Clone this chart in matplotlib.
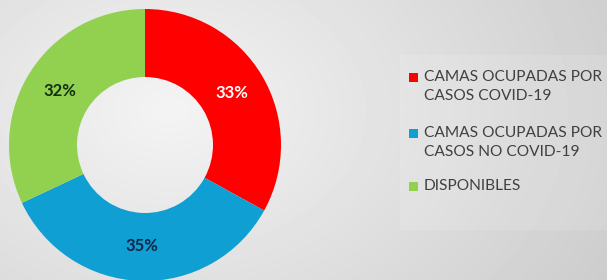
import numpy as np
import matplotlib
matplotlib.use("Agg")
import matplotlib.pyplot as plt
from matplotlib.patches import Rectangle

# Chart data
categories = ["CAMAS OCUPADAS POR\nCASOS COVID-19",
              "CAMAS OCUPADAS POR\nCASOS NO COVID-19",
              "DISPONIBLES"]
values = [33, 35, 32]
colors = ["#ff0000", "#0f9fd2", "#92d050"]
label_colors = ["white", "#10264a", "#14300f"]

W, H = 607, 280
fig = plt.figure(figsize=(W / 100, H / 100), dpi=100)

# background: soft radial grey gradient
bg = fig.add_axes([0, 0, 1, 1])
yy, xx = np.mgrid[0:H, 0:W]
d = np.sqrt(((xx - 170) / 420.0) ** 2 + ((yy - 110) / 300.0) ** 2)
shade = 0.955 - 0.13 * np.clip(d, 0, 1.2)
bg.imshow(shade, cmap="gray", vmin=0, vmax=1, extent=[0, W, H, 0], aspect="auto")
bg.set_xlim(0, W)
bg.set_ylim(H, 0)
bg.axis("off")

# legend panel (slightly lighter)
bg.add_patch(Rectangle((400, 55), 207, 175, facecolor="white", alpha=0.12,
                       edgecolor="none"))

# donut
cx, cy, r = 145, 145, 136
ax = fig.add_axes([(cx - r) / W, (H - cy - r) / H, 2 * r / W, 2 * r / H])
ax.set_facecolor("none")
wedges, _, autotexts = ax.pie(values, colors=colors, startangle=90, counterclock=False,
                              autopct="%1.0f%%", pctdistance=0.745,
                              wedgeprops=dict(width=0.5, edgecolor="none"),
                              textprops=dict(fontsize=12, fontweight="bold",
                                             family="Lato"))
for t, c in zip(autotexts, label_colors):
    t.set_color(c)
ax.set_xlim(-1, 1)
ax.set_ylim(-1, 1)
ax.set_aspect("equal")

# legend
leg_y = [78, 134, 187]
for lab, col, y in zip(categories, colors, leg_y):
    bg.add_patch(Rectangle((409, y - 5), 9, 9, facecolor=col, edgecolor="none"))
    bg.text(424, y - 8, lab, fontsize=11.2, family="Lato", color="#404040",
            va="top", ha="left", linespacing=1.45)

fig.savefig("out.png", dpi=100)
